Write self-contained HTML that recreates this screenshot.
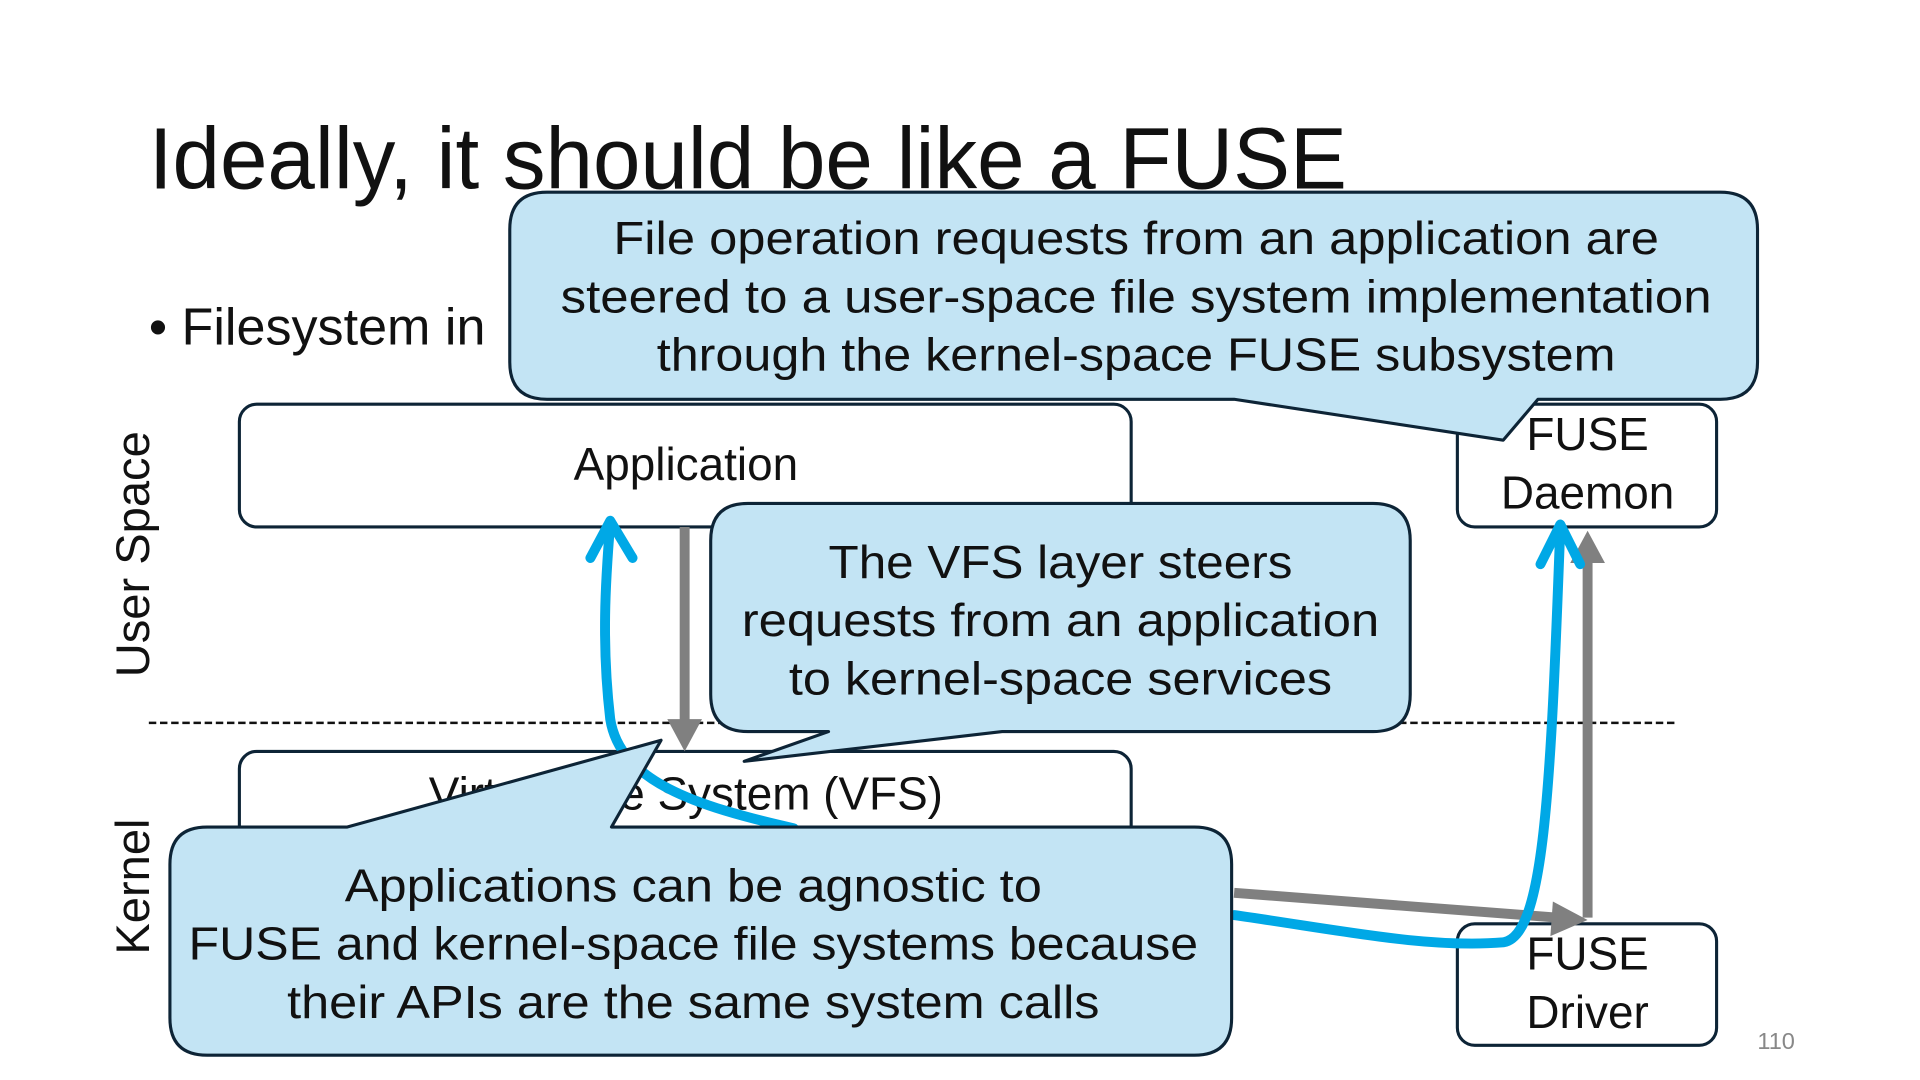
<!DOCTYPE html>
<html><head><meta charset="utf-8"><style>
html,body{margin:0;padding:0;background:#fff;}
svg{display:block;}
text{font-family:"Liberation Sans","Noto Sans CJK JP",sans-serif;fill:#111;}
</style></head><body>
<svg width="1920" height="1080" viewBox="0 0 1548 871" preserveAspectRatio="none" xmlns="http://www.w3.org/2000/svg">
<rect width="1548" height="871" fill="#fff"/>
<text x="120" y="152" font-size="70" textLength="966" lengthAdjust="spacingAndGlyphs">Ideally, it should be like a FUSE</text>
<text x="120" y="278" font-size="42">• Filesystem in</text>

<!-- boxes -->
<g fill="#fff" stroke="#0d2436" stroke-width="2.5">
<rect x="193" y="326" width="719" height="99" rx="14"/>
<rect x="1175" y="326" width="209" height="99" rx="14"/>
<rect x="193" y="606" width="719" height="80" rx="14"/>
<rect x="1175" y="745" width="209" height="98" rx="14"/>
</g>
<text x="553" y="387" font-size="37" text-anchor="middle">Application</text>
<text x="1280" y="363" font-size="37" text-anchor="middle">FUSE</text>
<text x="1280" y="410" font-size="37" text-anchor="middle">Daemon</text>
<text x="553" y="653" font-size="37" text-anchor="middle">Virtual File System (VFS)</text>
<text x="1280" y="782" font-size="37" text-anchor="middle">FUSE</text>
<text x="1280" y="829" font-size="37" text-anchor="middle">Driver</text>

<text transform="translate(120,447) rotate(-90)" font-size="38" text-anchor="middle">User Space</text>
<text transform="translate(120,715) rotate(-90)" font-size="38" text-anchor="middle">Kernel</text>

<line x1="120" y1="583" x2="1352" y2="583" stroke="#111" stroke-width="2" stroke-dasharray="6,3"/>

<!-- gray arrows -->
<g stroke="#808080" stroke-width="8" fill="none">
<line x1="552" y1="425" x2="552" y2="585"/>
<line x1="1280" y1="740" x2="1280" y2="448"/>
<line x1="995" y1="720" x2="1255" y2="740"/>
</g>
<g fill="#808080">
<polygon points="538,580 566,580 552,606"/>
<polygon points="1266,454 1294,454 1280,428"/>
<polygon points="1252,727 1250,755 1280,742"/>
</g>

<!-- blue arrows -->
<g stroke="#00a8e6" stroke-width="8" fill="none" stroke-linecap="round" stroke-linejoin="round">
<path d="M640,668 C560,650 500,630 492,580 C485,520 488,470 492,422"/>
<path d="M476,450 L492,420 L510,450"/>
<path d="M995,738 C1080,750 1150,765 1212,760 C1245,755 1250,640 1258,425"/>
<path d="M1242,455 L1258,423 L1274,455"/>
</g>

<!-- callouts -->
<g fill="#c3e4f4" stroke="#0d2436" stroke-width="2.5" stroke-linejoin="round">
<path d="M441,155 H1387 Q1417,155 1417,185 V292 Q1417,322 1387,322 H1240 L1212,355 L995,322 H441 Q411,322 411,292 V185 Q411,155 441,155 Z"/>
<path d="M603,406 H1107 Q1137,406 1137,436 V560 Q1137,590 1107,590 H808 L600,614 L668,590 H603 Q573,590 573,560 V436 Q573,406 603,406 Z"/>
<path d="M167,667 H280 L533,597 L493,667 H963 Q993,667 993,697 V821 Q993,851 963,851 H167 Q137,851 137,821 V697 Q137,667 167,667 Z"/>
</g>
<g font-size="37" text-anchor="middle">
<text x="916" y="205" textLength="843" lengthAdjust="spacingAndGlyphs">File operation requests from an application are</text>
<text x="916" y="252" textLength="928" lengthAdjust="spacingAndGlyphs">steered to a user-space file system implementation</text>
<text x="916" y="299" textLength="773" lengthAdjust="spacingAndGlyphs">through the kernel-space FUSE subsystem</text>
<text x="855" y="466" textLength="374" lengthAdjust="spacingAndGlyphs">The VFS layer steers</text>
<text x="855" y="513" textLength="514" lengthAdjust="spacingAndGlyphs">requests from an application</text>
<text x="855" y="560" textLength="438" lengthAdjust="spacingAndGlyphs">to kernel-space services</text>
<text x="559" y="727" textLength="562" lengthAdjust="spacingAndGlyphs">Applications can be agnostic to</text>
<text x="559" y="774" textLength="814" lengthAdjust="spacingAndGlyphs">FUSE and kernel-space file systems because</text>
<text x="559" y="821" textLength="655" lengthAdjust="spacingAndGlyphs">their APIs are the same system calls</text>
</g>
<text x="1432" y="846" font-size="19" fill="#888" style="fill:#888" text-anchor="middle">110</text>
</svg>
</body></html>
